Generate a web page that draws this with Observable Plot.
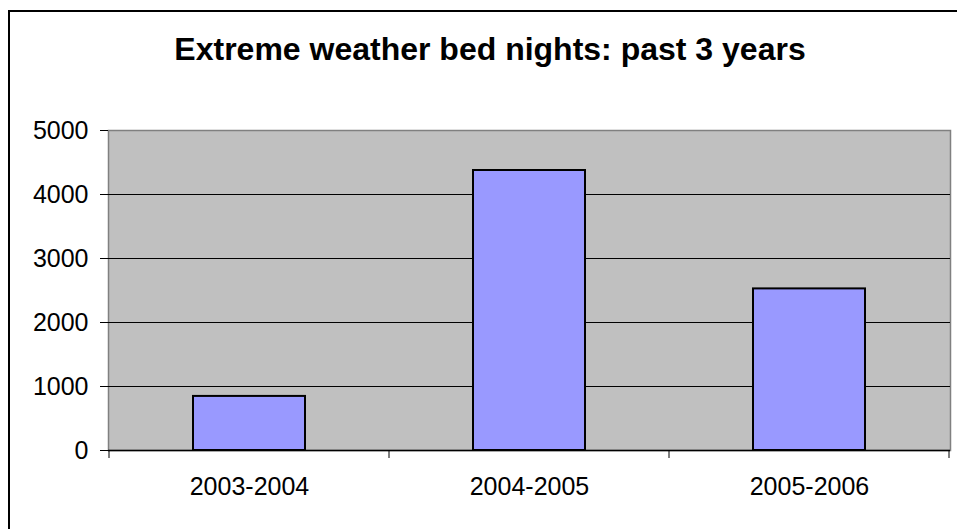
<!DOCTYPE html>
<html>
<head>
<meta charset="utf-8">
<script src="https://cdn.jsdelivr.net/npm/d3@7"></script>
<script src="https://cdn.jsdelivr.net/npm/@observablehq/plot@0.6"></script>
<style>
  html, body { margin: 0; padding: 0; background: #fff; overflow: hidden; }
  #wrap { position: relative; width: 957px; height: 529px; overflow: hidden; font-family: "Liberation Sans", Arial, sans-serif; color: #000; }
  #border { position: absolute; left: 8px; top: 10px; width: 1200px; height: 1200px; border-left: 2px solid #000; border-top: 2px solid #000; box-sizing: border-box; }
  #title { position: absolute; left: 0; width: 980px; top: 33px; text-align: center; font-size: 32px; line-height: 32px; font-weight: bold; white-space: nowrap; }
  #chart { position: absolute; left: 0; top: 0; }
</style>
</head>
<body>
<div id="wrap">
  <div id="chart"></div>
  <div id="border"></div>
  <div id="title">Extreme weather bed nights: past 3 years</div>
</div>
<script>
const periods = ["2003-2004", "2004-2005", "2005-2006"];
const nights = [845, 4375, 2525];
const yTicks = [0, 1000, 2000, 3000, 4000, 5000];
const gridValues = [1000, 2000, 3000, 4000];

const data = periods.map((p, i) => ({period: p, nights: nights[i]}));

const chart = Plot.plot({
  width: 957,
  height: 529,
  marginLeft: 108,
  marginRight: 7,
  marginTop: 130,
  marginBottom: 79,
  style: {fontFamily: "Liberation Sans, Arial, sans-serif", color: "#000", background: "transparent"},
  x: {domain: periods, paddingInner: 0.6, paddingOuter: 0.3},
  y: {domain: [0, 5000]},
  marks: [
    Plot.frame({fill: "#C0C0C0", stroke: "#808080", strokeWidth: 1.5}),
    Plot.ruleY(gridValues, {stroke: "#000", strokeWidth: 1}),
    Plot.barY(data, {x: "period", y: "nights", fill: "#9999FF", stroke: "#000", strokeWidth: 2}),
    Plot.ruleY([0], {stroke: "#000", strokeWidth: 1.5}),
    Plot.axisY({ticks: yTicks, tickSize: 8, tickPadding: 12, fontSize: 25, label: null, tickFormat: d => String(d)}),
    Plot.axisX({tickSize: 0, tickPadding: 27, fontSize: 25, label: null})
  ]
});

document.getElementById("chart").appendChild(chart);

// category boundary ticks on the x axis, derived from the library's band scale
const sx = chart.scale("x");
const sy = chart.scale("y");
const gap = (sx.step - sx.bandwidth) / 2;
const bounds = periods.map(p => sx.apply(p) - gap);
bounds.push(sx.apply(periods[periods.length - 1]) - gap + sx.step);
const y0 = sy.apply(0);
const svg = d3.select(chart.tagName.toLowerCase() === "svg" ? chart : chart.querySelector("svg"));
svg.append("g")
  .selectAll("line")
  .data(bounds)
  .join("line")
  .attr("x1", d => d).attr("x2", d => d)
  .attr("y1", y0).attr("y2", y0 + 8)
  .attr("stroke", "#000").attr("stroke-width", 1);
</script>
</body>
</html>
